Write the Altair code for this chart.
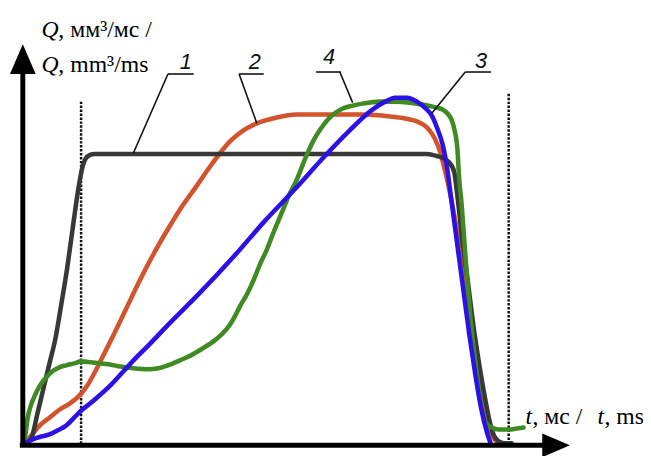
import altair as alt
import pandas as pd

# ---- data (t, Q in arbitrary units) ----
t1 = [0, 4, 8, 14, 20, 26, 32, 38, 44, 49, 53, 57, 60, 63, 67, 72, 176, 276, 396, 408,
      418, 426, 432, 436, 439, 444, 450, 455, 461, 467, 472, 476, 481, 488, 494]
q1 = [1, 3, 8, 33, 58, 83, 108, 143, 180, 216, 245, 270, 284, 291, 294, 295, 295, 295, 295, 295,
      293, 290, 285, 276, 253, 208, 163, 123, 83, 48, 23, 10, 4, 2, 2]

t2 = [0, 6, 16, 26, 36, 46, 56, 64, 73, 81, 91, 104, 116, 131, 146, 161, 176, 187, 198, 209,
      221, 236, 256, 276, 309, 343, 371, 386, 398, 409, 416, 422, 426, 430, 434, 441, 447, 453, 459, 465,
      470, 475, 480, 486]
q2 = [2, 8, 20, 28, 36, 42, 50, 60, 76, 92, 112, 139, 164, 193, 219, 243, 264, 280, 295, 308,
      318, 326, 332, 335, 335, 335, 333, 331, 328, 321, 311, 296, 280, 263, 243, 203, 158, 113, 73, 40,
      20, 8, 3, 1]

t3 = [0, 9, 18, 26, 34, 43, 51, 59, 68, 76, 88, 101, 113, 126, 151, 176, 216, 243, 276, 303,
      329, 353, 366, 376, 388, 398, 406, 413, 419, 424, 428, 433, 439, 445, 451, 457, 463, 469, 473]
q3 = [1, 6, 9, 11, 15, 20, 28, 36, 43, 50, 61, 75, 88, 101, 127, 152, 195, 226, 261, 291,
      318, 340, 348, 352, 352, 348, 342, 334, 320, 305, 285, 248, 203, 158, 113, 73, 38, 13, 1]

t4 = [0, 2, 4, 7, 11, 16, 22, 29, 36, 43, 51, 58, 68, 76, 86, 96, 111, 126, 136, 146,
      158, 169, 181, 193, 201, 208, 214, 219, 226, 233, 239, 246, 253, 261, 268, 276, 284, 293, 301, 309,
      316, 323, 333, 343, 361, 376, 391, 409, 418, 424, 429, 433, 436, 439, 441, 443, 446, 449, 452, 455,
      458, 461, 464, 468, 474, 481, 491, 499, 506]
q4 = [1, 13, 28, 40, 50, 60, 68, 75, 79, 81, 83, 85, 84, 83, 82, 80, 78, 77, 78, 81,
      86, 91, 98, 106, 113, 121, 131, 141, 153, 168, 183, 198, 216, 235, 252, 268, 288, 308, 321, 331,
      337, 341, 344, 346, 348, 348, 347, 344, 342, 340, 336, 330, 320, 301, 268, 248, 208, 168, 133, 103,
      78, 55, 36, 23, 18, 16, 16, 17, 18]

curve_names = ["2", "1", "4", "3"]
curve_t = {"1": t1, "2": t2, "3": t3, "4": t4}
curve_q = {"1": q1, "2": q2, "3": q3, "4": q4}
curve_colors = {"1": "#383838", "2": "#d2532c", "3": "#2a12e6", "4": "#3f8b22"}

# ---- scales ----
XS = alt.Scale(domain=[-16, 627], nice=False, zero=False)
YS = alt.Scale(domain=[-8, 440], nice=False, zero=False)


def ex(f="t"):
    return alt.X(f"{f}:Q", scale=XS, axis=None)


def ey(f="q"):
    return alt.Y(f"{f}:Q", scale=YS, axis=None)


layers = []

# dotted guide lines
guides = pd.DataFrame({"t": [58, 491], "q": [348, 356], "q2": [1, 5]})
layers.append(alt.Chart(guides).mark_rule(color="#111111", strokeWidth=2.5, strokeDash=[2.5, 1.5])
              .encode(x=ex(), y=ey(), y2=alt.Y2("q2:Q")))

# curves
for name in curve_names:
    df = pd.DataFrame({"t": curve_t[name], "q": curve_q[name]})
    layers.append(alt.Chart(df).mark_line(color=curve_colors[name], strokeWidth=4.6,
                                          interpolate="monotone", strokeCap="round",
                                          strokeJoin="round")
                  .encode(x=ex(), y=ey()))

# axes with arrows
axes = pd.DataFrame({"t": [-1, -4], "q": [0, 0], "t2": [-1, 528], "q2": [376, 0]})
layers.append(alt.Chart(axes).mark_rule(color="black", strokeWidth=5)
              .encode(x=ex(), y=ey(), x2=alt.X2("t2:Q"), y2=alt.Y2("q2:Q")))
up_arrow = pd.DataFrame({"t": [-14, -1, 12], "q": [376, 406, 376], "q2": [376, 376, 376]})
layers.append(alt.Chart(up_arrow).mark_area(color="black", interpolate="linear")
              .encode(x=ex(), y=ey(), y2=alt.Y2("q2:Q")))
right_arrow = pd.DataFrame({"q": [-12, 0, 12], "t": [525, 553, 525], "t2": [525, 525, 525]})
layers.append(alt.Chart(right_arrow).mark_area(color="black", interpolate="linear", orient="horizontal")
              .encode(y=ey(), x=ex(), x2=alt.X2("t2:Q")))

# leader lines for curve labels
leaders = pd.DataFrame({
    "t":  [146, 146, 218, 218, 296, 320, 447, 447],
    "q":  [376, 376, 376, 376, 378, 378, 378, 378],
    "t2": [172, 111, 243, 236, 321, 333, 473, 413],
    "q2": [376, 296, 376, 326, 378, 347, 378, 336],
})
layers.append(alt.Chart(leaders).mark_rule(color="#111111", strokeWidth=1.6)
              .encode(x=ex(), y=ey(), x2=alt.X2("t2:Q"), y2=alt.Y2("q2:Q")))

# curve numbers
labels = pd.DataFrame({"t": [164, 234, 309, 463], "q": [381, 381, 386, 382],
                       "text": ["1", "2", "4", "3"]})
layers.append(alt.Chart(labels).mark_text(font="Liberation Sans", fontStyle="italic", fontSize=22,
                                          align="center", baseline="alphabetic", color="#111111")
              .encode(x=ex(), y=ey(), text="text:N"))

# axis titles: italic symbol parts
ital = pd.DataFrame({"t": [18, 18, 508, 581], "q": [413, 378, 22, 22], "text": ["Q", "Q", "t", "t"]})
layers.append(alt.Chart(ital).mark_text(font="Liberation Serif", fontStyle="italic", fontSize=24,
                                        align="left", baseline="alphabetic", color="black")
              .encode(x=ex(), y=ey(), text="text:N"))
plain = pd.DataFrame({"t": [35, 35, 515, 588], "q": [413, 378, 22, 22],
                      "text": [", мм³/мс /", ", mm³/ms", ", мс /", ", ms"]})
layers.append(alt.Chart(plain).mark_text(font="Liberation Serif", fontSize=24,
                                         align="left", baseline="alphabetic", color="black")
              .encode(x=ex(), y=ey(), text="text:N"))

chart = alt.layer(*layers).properties(
    width=643, height=448, padding=0,
    autosize=alt.AutoSizeParams(type="none"),
    background="white",
).configure_view(stroke=None)

chart.save("out.html", embed_options={"renderer": "svg", "actions": False})
